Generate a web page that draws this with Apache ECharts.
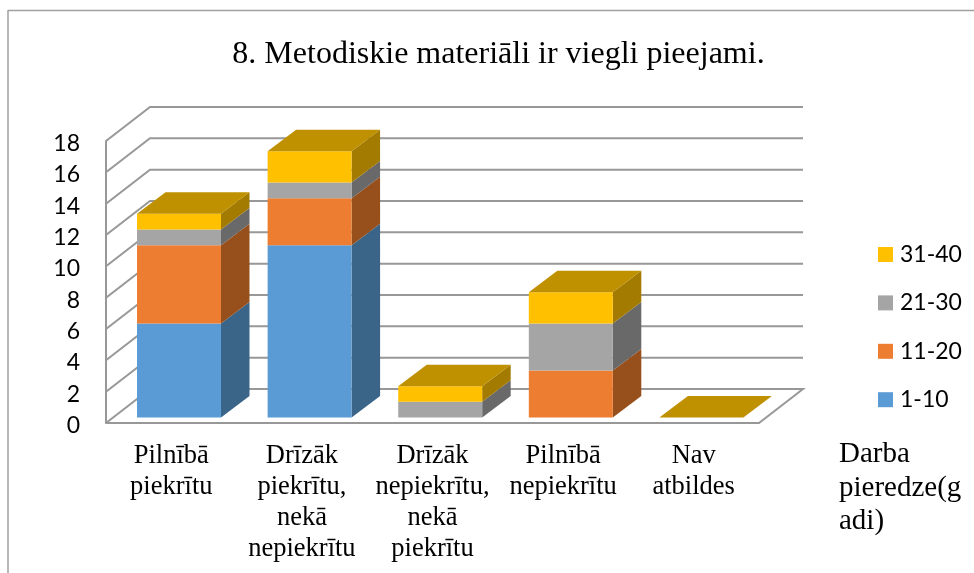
<!DOCTYPE html>
<html>
<head>
<meta charset="utf-8">
<style>
html, body { margin: 0; padding: 0; background: #fff; }
#chart { width: 974px; height: 573px; }
</style>
<script src="https://cdn.jsdelivr.net/npm/echarts@6/dist/echarts.min.js"></script>
</head>
<body>
<div id="chart"></div>
<script>
const categories = ['Pilnībā\npiekrītu', 'Drīzāk\npiekrītu,\nnekā\nnepiekrītu', 'Drīzāk\nnepiekrītu,\nnekā\npiekrītu', 'Pilnībā\nnepiekrītu', 'Nav\natbildes'];
const yTicks = [0, 2, 4, 6, 8, 10, 12, 14, 16, 18];
const pieredze1 = [6, 11, 0, 0, 0];
const pieredze2 = [5, 3, 0, 3, 0];
const pieredze3 = [1, 1, 1, 3, 0];
const pieredze4 = [1, 2, 1, 2, 0];
const seriesNames = ['1-10', '11-20', '21-30', '31-40'];

const colors = ['#5b9bd5', '#ed7d31', '#a5a5a5', '#ffc000'];
const sideColors = ['#3a6488', '#97501c', '#696969', '#a37b00'];
const topColor = '#bf9000';
const lineColor = '#989898';

// 3d nobīdes pikseļos
const wallDx = 44, wallDy = -34;
const barDx = 28.5, barDy = -21.5;
const barInX = 7.7, barInY = -5.5;
const barShare = 0.643;

const stacks = [pieredze1, pieredze2, pieredze3, pieredze4];

function renderBar(seriesIndex) {
  return function (params, api) {
    const i = api.value(0);
    let base = 0;
    for (let s = 0; s < seriesIndex; s++) base += stacks[s][i];
    const v = stacks[seriesIndex][i];
    const w = api.size([1, 0])[0] * barShare;
    const p0 = api.coord([i, base]);
    const p1 = api.coord([i, base + v]);
    const x0 = p0[0] + barInX - w / 2, x1 = x0 + w;
    const y0 = p0[1] + barInY, y1 = p1[1] + barInY;
    const children = [];
    if (v > 0) {
      children.push({
        type: 'polygon',
        shape: { points: [[x1, y0], [x1 + barDx, y0 + barDy], [x1 + barDx, y1 + barDy], [x1, y1]] },
        style: { fill: sideColors[seriesIndex] }
      });
      children.push({
        type: 'rect',
        shape: { x: x0, y: y1, width: w, height: y0 - y1 },
        style: { fill: colors[seriesIndex] }
      });
    }
    // jumts tikai pēdējai sērijai
    if (seriesIndex === stacks.length - 1) {
      children.push({
        type: 'polygon',
        shape: { points: [[x0, y1], [x1, y1], [x1 + barDx, y1 + barDy], [x0 + barDx, y1 + barDy]] },
        style: { fill: topColor }
      });
    }
    return { type: 'group', children: children };
  };
}

function renderWall(params, api) {
  const v = api.value(0);
  const y = api.coord([0, v])[1];
  const xl = params.coordSys.x;
  const xr = xl + params.coordSys.width;
  const pts = [[xl, y], [xl + wallDx, y + wallDy], [xr + wallDx, y + wallDy]];
  // grīdas rāmis
  if (v === 0) pts.push([xr, y], [xl, y]);
  return {
    type: 'polyline',
    shape: { points: pts },
    style: { stroke: lineColor, lineWidth: 2, fill: 'none' }
  };
}

const barSeries = seriesNames.map((name, s) => ({
  name: name,
  type: 'custom',
  renderItem: renderBar(s),
  itemStyle: { color: colors[s] },
  data: stacks[s].map((v, i) => [i, v]),
  encode: { x: 0, y: 1 },
  z: 3 + s,
  silent: true
}));

const chart = echarts.init(document.getElementById('chart'));
chart.setOption({
  animation: false,
  backgroundColor: '#fff',
  title: {
    text: '8. Metodiskie materiāli ir viegli pieejami.',
    left: 493.5,
    top: 34,
    textAlign: 'center',
    textStyle: { fontFamily: 'Liberation Serif', fontSize: 32, fontWeight: 'normal', color: '#000' }
  },
  legend: {
    orient: 'vertical',
    left: 878,
    top: 243,
    padding: 0,
    itemWidth: 15,
    itemHeight: 15,
    itemGap: 25.4,
    icon: 'rect',
    data: ['31-40', '21-30', '11-20', '1-10'],
    textStyle: { fontFamily: 'Lato', fontSize: 23, color: '#000', padding: [0, 0, 0, 2] }
  },
  grid: { left: 106, top: 141, width: 653, height: 282 },
  xAxis: {
    type: 'category',
    data: categories,
    name: 'Darba\npieredze(g\nadi)',
    nameLocation: 'end',
    nameGap: 80,
    nameTextStyle: {
      fontFamily: 'Liberation Serif', fontSize: 29, lineHeight: 33.5, color: '#000',
      align: 'left', verticalAlign: 'top', padding: [15, 0, 0, 0]
    },
    axisLine: { show: false },
    axisTick: { show: false },
    axisLabel: {
      interval: 0,
      margin: 18,
      fontFamily: 'Liberation Serif',
      fontSize: 26.5,
      lineHeight: 31,
      color: '#000'
    }
  },
  yAxis: {
    type: 'value',
    min: 0,
    max: 18,
    interval: 2,
    axisLine: { show: true, lineStyle: { color: lineColor, width: 2 } },
    axisTick: { show: false },
    splitLine: { show: false },
    axisLabel: {
      margin: 26,
      formatter: '{a|{value}}',
      rich: { a: { fontFamily: 'Lato', fontSize: 23, color: '#000', padding: [5, 0, 0, 0] } }
    }
  },
  graphic: [
    { type: 'line', shape: { x1: 8, y1: 10.5, x2: 974, y2: 10.5 }, style: { stroke: '#a0a0a0', lineWidth: 1.5 } },
    { type: 'line', shape: { x1: 8, y1: 10, x2: 8, y2: 573 }, style: { stroke: '#a0a0a0', lineWidth: 1.5 } }
  ],
  series: [{
    type: 'custom',
    renderItem: renderWall,
    data: yTicks.map(v => [v]),
    encode: { y: 0 },
    z: 1,
    silent: true
  }].concat(barSeries)
});
</script>
</body>
</html>
